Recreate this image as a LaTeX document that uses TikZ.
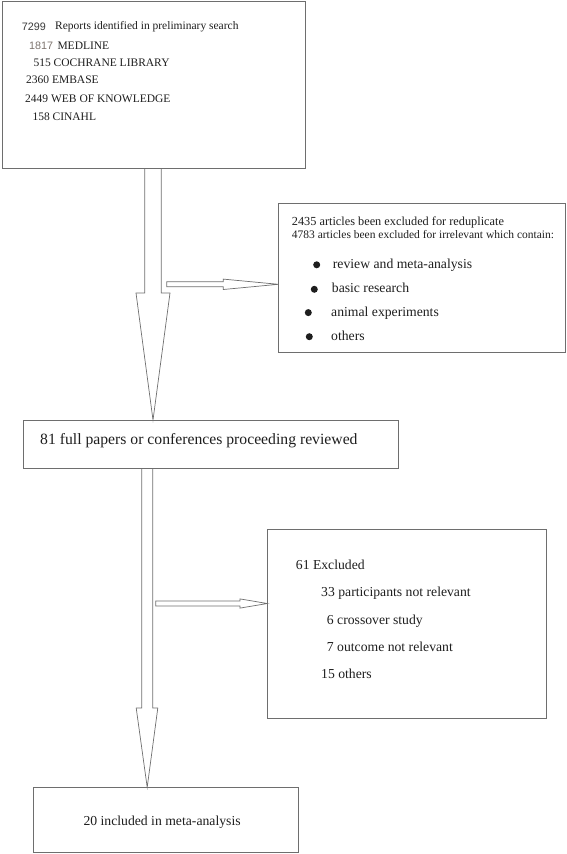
\documentclass[tikz,border=0pt]{standalone}
\usepackage{fontspec}
\setmainfont{Liberation Serif}
\newfontfamily\arialfont{Liberation Sans}
\usepackage{xcolor}
\definecolor{linegray}{HTML}{6E6E6E}
\definecolor{numgray}{HTML}{7D746E}
\definecolor{numdark}{HTML}{3A3A3A}
\definecolor{txtcol}{HTML}{1E1E1E}

\tikzset{
	box/.style={draw=linegray, line width=0.8pt, rectangle, inner sep=0pt, anchor=north west},
	blockarrow/.style={draw=linegray, line width=0.7pt, line join=miter},
	txt/.style={inner sep=0pt, anchor=base west, text=txtcol},
	srcfont/.style={font=\fontsize{11.5}{14}\selectfont},
	numfont/.style={font=\arialfont\fontsize{10.8}{13}\selectfont},
	hdfont/.style={font=\fontsize{12.3}{15}\selectfont},
	itemfont/.style={font=\fontsize{13.7}{16}\selectfont},
	bigfont/.style={font=\fontsize{15.7}{18}\selectfont},
	dot/.style={circle, fill=txtcol, inner sep=0pt, minimum size=7pt},
}

\begin{document}
\begin{tikzpicture}[x=1pt,y=-1pt]

	\useasboundingbox (0,0) rectangle (567,854);

	% boxes
	\node[box, minimum width=303.5pt, minimum height=166.5pt] (search) at (1.5,1.2) {};
	\node[box, minimum width=287pt, minimum height=149.5pt] (excl1) at (278.3,202.7) {};
	\node[box, minimum width=375pt, minimum height=48pt] (full) at (22.5,420) {};
	\node[box, minimum width=278.7pt, minimum height=188.7pt] (excl2) at (267.3,529.3) {};
	\node[box, minimum width=265pt, minimum height=65pt] (incl) at (33.3,787.3) {};

	% search -> full
	\coordinate (s1) at (153,0 |- search.south);
	\coordinate (t1) at (153,0 |- full.north);
	\draw[blockarrow] (144.7,0 |- s1) -- (144.7,293) -- (136,293) -- (t1)
		-- (170,293) -- (161.3,293) -- (161.3,0 |- s1);

	% search -> excl1
	\coordinate (t2) at (excl1.west |- 0,284.3);
	\draw[blockarrow] (166.7,281.8) -- (223.3,281.8) -- (223.3,279.1) -- (t2)
		-- (223.3,289.5) -- (223.3,286.8) -- (166.7,286.8) -- cycle;

	% full -> incl
	\coordinate (s3) at (147.2,0 |- full.south);
	\coordinate (t3) at (147.2,0 |- incl.north);
	\draw[blockarrow] (141.7,0 |- s3) -- (141.7,708) -- (136.2,708) -- (t3)
		-- (157.8,708) -- (152.7,708) -- (152.7,0 |- s3);

	% full -> excl2
	\coordinate (t4) at (excl2.west |- 0,603.5);
	\draw[blockarrow] (155.7,601) -- (240,601) -- (240,598.9) -- (t4)
		-- (240,608.1) -- (240,606) -- (155.7,606) -- cycle;

	% search box text
	\node[txt, numfont, text=numdark] (n7299) at (21.7,30.5) {7299};
	\node[txt, srcfont] (reports) at (55,29.5) {Reports identified in preliminary search};
	\node[txt, numfont, text=numgray] (n1817) at (29,49.3) {1817};
	\node[txt, srcfont] (medline) at (57.3,49.3) {MEDLINE};
	\node[txt, srcfont] (cochrane) at (33.3,66.3) {515 COCHRANE LIBRARY};
	\node[txt, srcfont] (embase) at (26,83.7) {2360 EMBASE};
	\node[txt, srcfont] (wok) at (25,102.7) {2449 WEB OF KNOWLEDGE};
	\node[txt, srcfont] (cinahl) at (32.3,120.7) {158 CINAHL};

	% first exclusion text
	\node[txt, hdfont] (dup) at (291.7,225.7) {2435 articles been excluded for reduplicate};
	\node[txt, font=\fontsize{11.5}{14}\selectfont] (irr) at (291.7,238.7) {4783 articles been excluded for irrelevant which contain:};
	\node[dot] (d1) at (316.7,264.8) {};
	\node[dot] (d2) at (314.3,289.3) {};
	\node[dot] (d3) at (308.3,312.6) {};
	\node[dot] (d4) at (309.3,336.7) {};
	\node[txt, itemfont] (review) at (332.7,268.3) {review and meta-analysis};
	\node[txt, itemfont] (basic) at (331.7,292.7) {basic research};
	\node[txt, itemfont] (animal) at (331,316.7) {animal experiments};
	\node[txt, itemfont] (others1) at (331,340) {others};

	% full text
	\node[txt, bigfont] (fulltxt) at (40,444.3) {81 full papers or conferences proceeding reviewed};

	% second exclusion text
	\node[txt, itemfont] (ex61) at (295.7,569.3) {61 Excluded};
	\node[txt, itemfont] (part) at (321,596) {33 participants not relevant};
	\node[txt, itemfont] (cross) at (326.7,624) {6 crossover study};
	\node[txt, itemfont] (outc) at (326.7,651.7) {7 outcome not relevant};
	\node[txt, itemfont] (others2) at (321,678.7) {15 others};

	% included text
	\node[txt, itemfont] (incltxt) at (83.3,825.7) {20 included in meta-analysis};

\end{tikzpicture}
\end{document}
